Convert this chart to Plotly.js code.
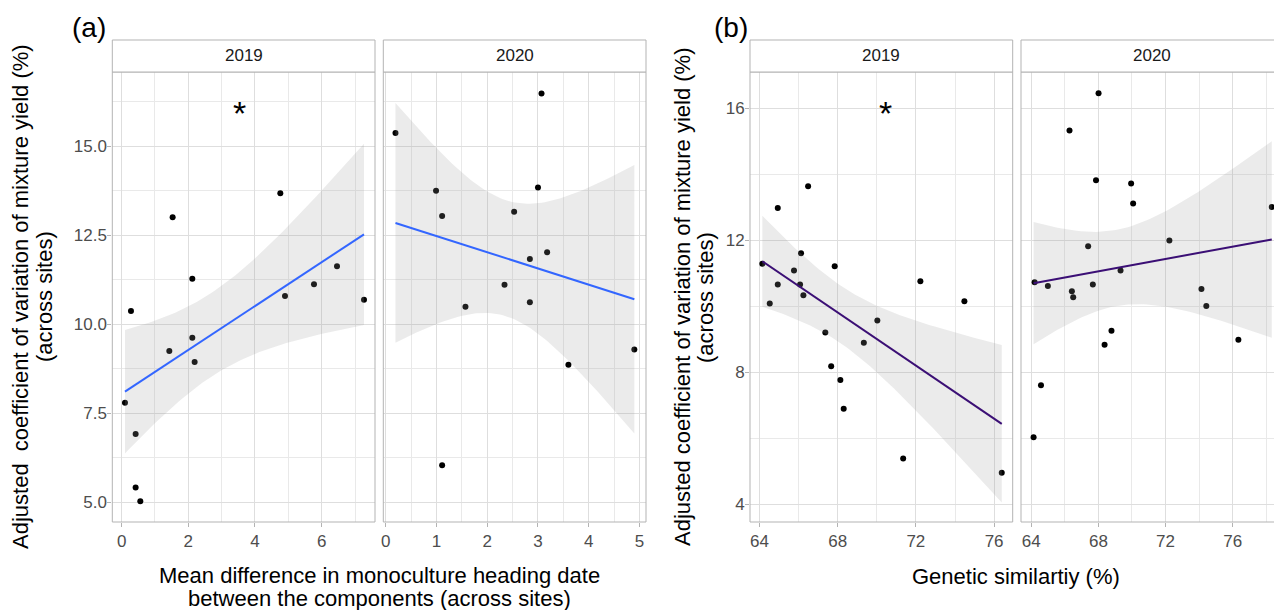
<!DOCTYPE html>
<html><head><meta charset="utf-8">
<script src="https://cdn.plot.ly/plotly-3.0.1.min.js"></script>
<style>html,body{margin:0;padding:0;overflow:hidden;background:#fff}#chart{width:1290px;height:610px}</style>
</head><body><div id="chart"></div>
<script>
// ---- data ----
const headingX2019 = [0.10,0.28,0.42,0.42,0.56,1.43,1.53,2.12,2.12,2.19,4.76,4.90,5.77,6.46,7.27];
const headingY2019 = [7.80,10.37,6.92,5.42,5.03,9.25,13.00,11.28,9.62,8.94,13.68,10.79,11.12,11.63,10.69];
const headingX2020 = [0.19,3.07,0.99,3.00,1.11,2.53,3.18,2.84,2.34,1.57,2.84,4.90,3.60,1.11];
const headingY2020 = [15.37,16.48,13.75,13.84,13.04,13.16,12.02,11.83,11.11,10.49,10.62,9.29,8.86,6.04];
const geneticX2019 = [64.15,64.53,64.94,64.94,65.77,66.13,66.08,66.25,66.49,67.37,67.67,67.85,68.14,68.31,69.34,70.03,71.35,72.23,74.48,76.39];
const geneticY2019 = [11.29,10.09,12.98,10.66,11.09,11.61,10.66,10.34,13.64,9.21,8.19,11.22,7.77,6.90,8.90,9.57,5.39,10.76,10.16,4.96];
const geneticX2020 = [64.20,64.99,64.14,64.58,66.28,66.42,66.50,67.39,67.67,67.86,68.01,68.37,68.78,69.32,69.95,70.07,72.23,74.14,74.43,76.34,78.33];
const geneticY2020 = [10.73,10.62,6.04,7.61,15.33,10.46,10.28,11.82,10.66,13.82,16.46,8.84,9.26,11.09,13.72,13.12,12.00,10.53,10.01,8.99,13.01];
const years = ["2019","2020"];
const panelLabels = ["(a)","(b)"];
const yTitleA = ["Adjusted\u00a0 coefficient of variation of mixture yield (%)", "(across sites)"];
const yTitleB = ["Adjusted coefficient of variation of mixture yield (%)", "(across sites)"];
const xTitleA = ["Mean difference in monoculture heading date", "between the components (across sites)"];
const xTitleB = "Genetic similartiy (%)";
// two-sided 95% t quantiles by degrees of freedom
const t975 = {10:2.228,11:2.201,12:2.179,13:2.160,14:2.145,15:2.131,16:2.120,17:2.110,18:2.101,19:2.093,20:2.086,21:2.080,22:2.074,23:2.069};

// ---- linear model with 95% confidence band (like geom_smooth(method="lm")) ----
function lmFit(xs, ys, steps){
  const n = xs.length;
  const mx = xs.reduce((a,b)=>a+b,0)/n, my = ys.reduce((a,b)=>a+b,0)/n;
  let sxx=0, sxy=0;
  for(let i=0;i<n;i++){ sxx+=(xs[i]-mx)**2; sxy+=(xs[i]-mx)*(ys[i]-my); }
  const b = sxy/sxx, a = my-b*mx;
  let sse=0; for(let i=0;i<n;i++){ sse+=(ys[i]-a-b*xs[i])**2; }
  const s = Math.sqrt(sse/(n-2)), tq = t975[n-2];
  const x0 = Math.min(...xs), x1 = Math.max(...xs);
  const gx=[], gy=[], up=[], lo=[];
  for(let k=0;k<=steps;k++){
    const x = x0+(x1-x0)*k/steps, y = a+b*x;
    const hw = tq*s*Math.sqrt(1/n+(x-mx)**2/sxx);
    gx.push(x); gy.push(y); up.push(y+hw); lo.push(y-hw);
  }
  return {gx, gy, bx: gx.concat(gx.slice().reverse()), by: up.concat(lo.slice().reverse())};
}

const FONT = "Liberation Sans, Arial, sans-serif";
const traces = [];
function panel(xs, ys, xa, ya, lineColor){
  traces.push({type:"scatter", mode:"markers", x:xs, y:ys, xaxis:xa, yaxis:ya,
    marker:{color:"#000", size:6}, hoverinfo:"skip", showlegend:false});
  const f = lmFit(xs, ys, 80);
  traces.push({type:"scatter", mode:"lines", x:f.bx, y:f.by, xaxis:xa, yaxis:ya, fill:"toself",
    fillcolor:"rgba(153,153,153,0.2)", line:{width:0}, hoverinfo:"skip", showlegend:false});
  traces.push({type:"scatter", mode:"lines", x:f.gx, y:f.gy, xaxis:xa, yaxis:ya,
    line:{color:lineColor, width:2}, hoverinfo:"skip", showlegend:false});
}
panel(headingX2019, headingY2019, "x", "y", "#3366FF");
panel(headingX2020, headingY2020, "x2", "y", "#3366FF");
panel(geneticX2019, geneticY2019, "x3", "y2", "#3b0f75");
panel(geneticX2020, geneticY2020, "x4", "y2", "#3b0f75");

const W = 1290, H = 610;
const px = v => v/W, py = v => 1 - v/H;
const plotTop = 72, plotBot = 522, stripTop = 40;
const doms = [[112.3,375],[383.3,646],[750,1012.7],[1021,1283.7]];
const grid = "#dedede", minorGrid = "#e9e9e9";
const TICK = 17, TITLE = 22;
function xax(d, range, dtick, mdtick, anchor){
  return {domain:[px(d[0]),px(d[1])], range:range, anchor:anchor, tickmode:"linear", tick0:0, dtick:dtick,
    showline:false, zeroline:false, ticks:"outside", ticklen:4, tickcolor:"#b3b3b3",
    tickfont:{family:FONT, size:TICK, color:"#4d4d4d"}, gridcolor:grid, gridwidth:1,
    minor:{tick0:0, dtick:mdtick, showgrid:true, gridcolor:minorGrid, gridwidth:1, ticks:""}, fixedrange:true};
}
function yax(range, dtick, mdtick, anchor, fmt){
  return {domain:[py(plotBot),py(plotTop)], range:range, anchor:anchor, tickmode:"linear", tick0:0, dtick:dtick,
    tickformat:fmt, showline:false, zeroline:false, ticks:"outside", ticklen:4, tickcolor:"#b3b3b3",
    ticklabelstandoff:-3,
    tickfont:{family:FONT, size:TICK, color:"#4d4d4d"}, gridcolor:grid, gridwidth:1,
    minor:{tick0:0, dtick:mdtick, showgrid:true, gridcolor:minorGrid, gridwidth:1, ticks:""}, fixedrange:true};
}

const shapes = [], annotations = [];
const axNames = ["x","x2","x3","x4"], yNames = ["y","y","y2","y2"];
doms.forEach((d,i)=>{
  shapes.push({type:"rect", xref:axNames[i]+" domain", yref:yNames[i]+" domain", x0:0, x1:1, y0:0, y1:1,
    line:{color:"#b3b3b3", width:1}, fillcolor:"rgba(0,0,0,0)", layer:"above"});
  shapes.push({type:"rect", xref:"paper", yref:"paper", x0:px(d[0]), x1:px(d[1]), y0:py(plotTop), y1:py(stripTop),
    line:{color:"#b3b3b3", width:1}, fillcolor:"#fff"});
  annotations.push({xref:"paper", yref:"paper", x:px((d[0]+d[1])/2), y:py((plotTop+stripTop)/2), text:years[i%2],
    showarrow:false, font:{family:FONT, size:TICK, color:"#1a1a1a"}, xanchor:"center", yanchor:"middle"});
});
function txt(x, y, t, size, angle){
  annotations.push({xref:"paper", yref:"paper", x:px(x), y:py(y), text:t, showarrow:false, textangle:angle||0,
    font:{family:FONT, size:size, color:"#000"}, xanchor:"center", yanchor:"middle"});
}
annotations.push({xref:"x", yref:"y", x:3.55, y:16.06, text:"*", showarrow:false, yshift:-5,
  font:{family:FONT, size:34, color:"#000"}});
annotations.push({xref:"x3", yref:"y2", x:70.46, y:16.0, text:"*", showarrow:false, yshift:-5,
  font:{family:FONT, size:34, color:"#000"}});
txt(89, 28, panelLabels[0], 28);
txt(731, 28, panelLabels[1], 28);
txt(21, 297, yTitleA[0], TITLE, -90);
txt(45, 297, yTitleA[1], TITLE, -90);
txt(683, 297, yTitleB[0], TITLE, -90);
txt(706, 297, yTitleB[1], TITLE, -90);
txt(379, 575, xTitleA[0], TITLE);
txt(379, 598, xTitleA[1], TITLE);
txt(1016, 576, xTitleB, TITLE);

const layout = {
  width:W, height:H, margin:{l:0,r:0,t:0,b:0}, paper_bgcolor:"#fff", plot_bgcolor:"#fff",
  showlegend:false, font:{family:FONT},
  xaxis: xax(doms[0], [-0.28,7.60], 2, 1, "y"),
  xaxis2: xax(doms[1], [-0.05,5.13], 1, 0.5, "y"),
  xaxis3: xax(doms[2], [63.52,76.95], 4, 2, "y2"),
  xaxis4: xax(doms[3], [63.39,79.04], 4, 2, "y2"),
  yaxis: yax([4.45,17.08], 2.5, 1.25, "x", ".1f"),
  yaxis2: yax([3.47,17.10], 4, 2, "x3", "d"),
  shapes:shapes, annotations:annotations
};
Plotly.newPlot("chart", traces, layout, {staticPlot:true, displayModeBar:false});
</script></body></html>
